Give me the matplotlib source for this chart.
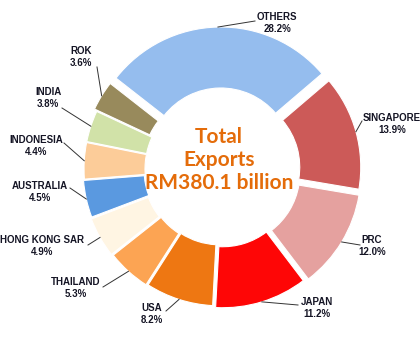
import matplotlib.pyplot as plt
import numpy as np

# export share by destination, clockwise from the top
countries = ["OTHERS", "SINGAPORE", "PRC", "JAPAN", "USA", "THAILAND",
             "HONG KONG SAR", "AUSTRALIA", "INDONESIA", "INDIA", "ROK"]
shares = [28.2, 13.9, 12.0, 11.2, 8.2, 5.3, 4.9, 4.5, 4.4, 3.8, 3.6]
total_text = "Total\nExports\nRM380.1 billion"

colors = ["#95bdee", "#cc5a58", "#e5a19f", "#fe0606", "#ee7712", "#fca453",
          "#fff5e3", "#5a99e0", "#fccc99", "#d1e2a8", "#988a5c"]
explode = [9, 7, 8, 6, 4, 5, 6, 5, 4, 4, 7]

# label text centres and leader end points, in pixels from top-left
label_pos = [(277, 23), (392, 124), (372, 246), (317, 308), (152, 314),
             (76, 288), (42, 246), (40, 192), (36, 146), (48, 98), (81, 57)]
leader_end = [(255, 21), (362, 121), (360, 245), (298, 305), (166, 311),
              (103, 287), (88, 245), (70, 188), (64, 143), (62, 108), (97, 67)]

W, H = 420, 350
cx, cy = 221, H - 169
R = 133

fig = plt.figure(figsize=(4.2, 3.5), dpi=100)
ax = fig.add_axes([0, 0, 1, 1])

wedges, _ = ax.pie(shares, colors=colors, explode=explode, startangle=142,
                   counterclock=False, center=(cx, cy), radius=R,
                   wedgeprops=dict(width=61, edgecolor="white", linewidth=0.8))
ax.set_xlim(0, W)
ax.set_ylim(0, H)
ax.set_aspect("equal")
ax.axis("off")

for i, w in enumerate(wedges):
    mid = np.deg2rad((w.theta1 + w.theta2) / 2)
    x0 = w.center[0] + R * np.cos(mid)
    y0 = w.center[1] + R * np.sin(mid)
    ex, ey = leader_end[i]
    ax.plot([x0, ex], [y0, H - ey], color="#333333", lw=0.7)
    tx, ty = label_pos[i]
    ax.text(tx, H - ty, f"{countries[i]}\n{shares[i]:.1f}%", ha="center",
            va="center", fontsize=7, fontweight="bold", color="#151525",
            family="Liberation Sans", linespacing=1.35)

ax.text(cx - 2, H - 160, total_text, ha="center", va="center", fontsize=15,
        fontweight="bold", color="#e46c0a", family="Lato", linespacing=1.2)

fig.savefig("out.png", dpi=100)
